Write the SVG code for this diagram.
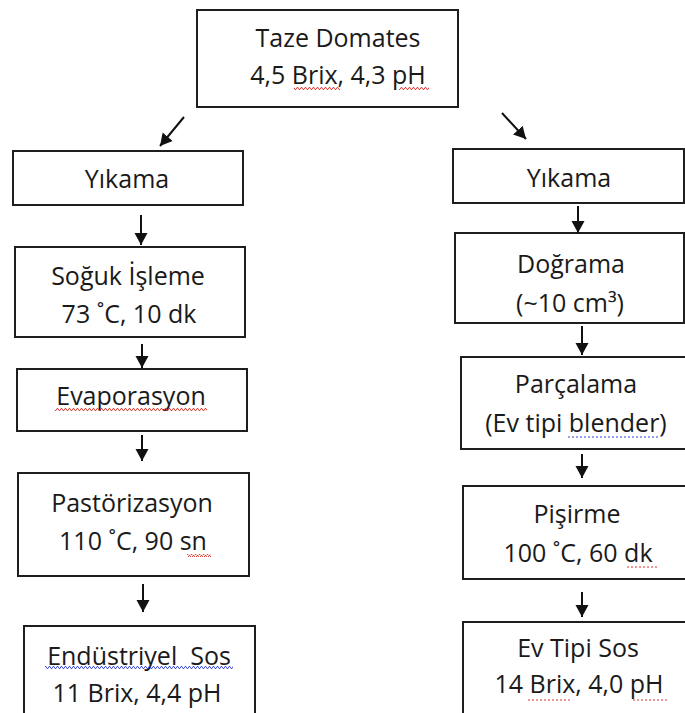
<svg xmlns="http://www.w3.org/2000/svg" width="685" height="713" viewBox="0 0 685 713">
<style>
.box{fill:#fff;stroke:#1e1e1e;stroke-width:2}
.t{font-family:"Open Sans","Noto Sans",sans-serif;font-size:25px;fill:#1a1a1a;text-anchor:middle}
.arr{stroke:#111;stroke-width:2;fill:none;marker-end:url(#ah)}
</style>
<defs>
<marker id="ah" markerUnits="userSpaceOnUse" markerWidth="14" markerHeight="14" refX="12" refY="7" orient="auto" viewBox="0 0 14 14">
<path d="M0,0.5 L12,7 L0,13.5 z" fill="#111"/>
</marker>
<pattern id="wr" width="4" height="3" patternUnits="userSpaceOnUse">
<path d="M0,2.5 L1,0.5 L2,0.5 L3,2.5 L4,2.5" stroke="#e03030" stroke-width="0.9" fill="none"/>
</pattern>
<pattern id="wb" width="4" height="3" patternUnits="userSpaceOnUse">
<path d="M0,2.5 L1,0.5 L2,0.5 L3,2.5 L4,2.5" stroke="#3040e0" stroke-width="0.9" fill="none"/>
</pattern>
</defs>
<rect width="685" height="713" fill="#fff"/>

<g id="n-taze"><rect class="box" x="197" y="10" width="261" height="97"/>
<text class="t" x="338" y="47">Taze Domates</text><text class="t" x="338" y="84">4,5 Brix, 4,3 pH</text></g>

<g id="n-yikama-l"><rect class="box" x="13" y="151" width="230" height="54"/>
<text class="t" x="127" y="188">Yıkama</text></g>
<g id="n-soguk"><rect class="box" x="15" y="247" width="230" height="90"/>
<text class="t" x="128" y="285">Soğuk İşleme</text><text class="t" x="129" y="323">73 ˚C, 10 dk</text></g>
<g id="n-evap"><rect class="box" x="17" y="369" width="230" height="62"/>
<text class="t" x="131" y="405">Evaporasyon</text></g>
<g id="n-past"><rect class="box" x="18" y="473" width="231" height="103"/>
<text class="t" x="132" y="512">Pastörizasyon</text><text class="t" x="133" y="550">110 ˚C, 90 sn</text></g>
<g id="n-endustriyel"><rect class="box" x="24" y="626" width="231" height="100"/>
<text class="t" x="139" y="665" style="white-space:pre">Endüstriyel  Sos</text><text class="t" x="137" y="702">11 Brix, 4,4 pH</text></g>

<g id="n-yikama-r"><rect class="box" x="453" y="149" width="231" height="54"/>
<text class="t" x="569" y="187">Yıkama</text></g>
<g id="n-dograma"><rect class="box" x="455" y="233" width="229" height="90"/>
<text class="t" x="571" y="273">Doğrama</text><text class="t" x="570" y="312">(~10 cm³)</text></g>
<g id="n-parcalama"><rect class="box" x="461" y="357" width="240" height="92"/>
<text class="t" x="576" y="393">Parçalama</text><text class="t" x="576" y="432">(Ev tipi blender)</text></g>
<g id="n-pisirme"><rect class="box" x="463" y="486" width="240" height="93"/>
<text class="t" x="577" y="523">Pişirme</text><text class="t" x="578" y="562">100 ˚C, 60 dk</text></g>
<g id="n-evtipi"><rect class="box" x="463" y="622" width="240" height="100"/>
<text class="t" x="578" y="657">Ev Tipi Sos</text><text class="t" x="579" y="693">14 Brix, 4,0 pH</text></g>

<g id="marks">
<rect x="294" y="87" width="46" height="3" fill="url(#wr)"/>
<rect x="399" y="87" width="30" height="3" fill="url(#wr)"/>
<rect x="55" y="408" width="152" height="3" fill="url(#wr)"/>
<rect x="187" y="554" width="24" height="3" fill="url(#wr)"/>
<rect x="45" y="666" width="188" height="3" fill="url(#wb)"/>
<line x1="568" y1="437" x2="660" y2="437" stroke="#3040e0" stroke-width="1" stroke-dasharray="2,2"/>
<line x1="627" y1="567" x2="657" y2="567" stroke="#e03030" stroke-width="1" stroke-dasharray="2,2"/>
<line x1="528" y1="700" x2="571" y2="700" stroke="#e03030" stroke-width="1" stroke-dasharray="2,2"/>
<line x1="633" y1="700" x2="667" y2="700" stroke="#e03030" stroke-width="1" stroke-dasharray="2,2"/>
</g>

<g id="connectors">
<line class="arr" x1="184" y1="117" x2="160" y2="146"/>
<line class="arr" x1="502" y1="113" x2="526" y2="139"/>
<line class="arr" x1="141" y1="215" x2="141" y2="245"/>
<line class="arr" x1="142" y1="344" x2="142" y2="368"/>
<line class="arr" x1="142" y1="435" x2="142" y2="461"/>
<line class="arr" x1="143" y1="584" x2="143" y2="612"/>
<line class="arr" x1="578" y1="206" x2="578" y2="233"/>
<line class="arr" x1="582" y1="326" x2="582" y2="355"/>
<line class="arr" x1="582" y1="454" x2="582" y2="478"/>
<line class="arr" x1="582" y1="592" x2="582" y2="617"/>
</g>
</svg>
